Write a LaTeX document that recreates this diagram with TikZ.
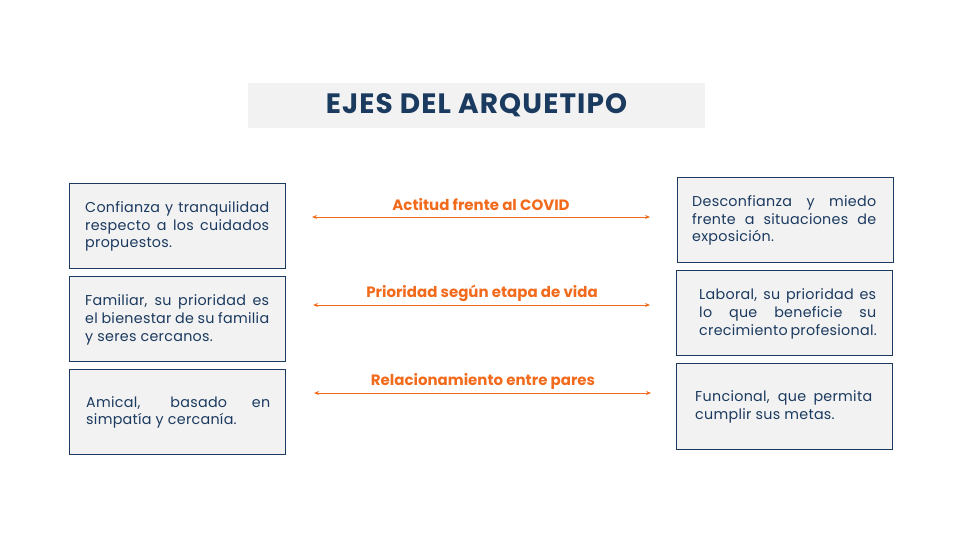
\documentclass[tikz,border=0pt]{standalone}
\usepackage{fontspec}
\setmainfont{Poppins}
\newfontfamily\titlefont[LetterSpace=4]{Poppins}
\newfontfamily\bodyfont[LetterSpace=2]{Poppins}
\usetikzlibrary{arrows.meta}
\definecolor{navy}{HTML}{1B3A5F}
\definecolor{boxfill}{HTML}{F2F2F2}
\definecolor{orng}{HTML}{F26B1D}
\tikzset{
  axisbox/.style={draw=navy, line width=1.2pt, fill=boxfill, minimum width=216pt, minimum height=85pt, anchor=north west, inner sep=0pt},
  boxtext/.style={text=navy, text width=184pt, align=justify, font=\fontsize{14.3pt}{17.8pt}\bodyfont, inner sep=0pt},
  axislabel/.style={text=orng, font=\fontsize{15pt}{17pt}\selectfont\bfseries, inner sep=0pt},
  axisarrow/.style={draw=orng, line width=0.9pt, {Stealth[length=5pt,width=4pt]}-{Stealth[length=5pt,width=4pt]}},
  titlebox/.style={fill=boxfill, minimum width=457pt, minimum height=45pt, inner sep=0pt, text=navy, font=\fontsize{28pt}{32pt}\titlefont\bfseries}
}
\begin{document}
\hyphenpenalty=10000
\exhyphenpenalty=10000
\begin{tikzpicture}[x=1pt,y=-1pt]
\useasboundingbox (0,0) rectangle (960,540);
\node[titlebox] (title) at (476.5,105.5) {EJES DEL ARQUETIPO};

\node[axisbox] (l1) at (69,183) {};
\node[axisbox] (l2) at (69,276) {};
\node[axisbox] (l3) at (69,369) {};
\node[axisbox] (r1) at (677,177) {};
\node[axisbox] (r2) at (676,270) {};
\node[axisbox, minimum height=86pt] (r3) at (676,363) {};

\node[boxtext, anchor=west] (tl1) at (85,226.5) {Confianza y tranquilidad\linebreak respecto a los cuidados\linebreak propuestos.};
\node[boxtext, anchor=west] (tl2) at (85,320) {Familiar, su prioridad es\linebreak el bienestar de su familia\linebreak y seres cercanos.};
\node[boxtext, anchor=west] (tl3) at (86,412.5) {Amical, basado en\linebreak simpatía y cercanía.};
\node[boxtext, anchor=west] (tr1) at (692,220.5) {Desconfianza y miedo\linebreak frente a situaciones de\linebreak exposición.};
\node[boxtext, anchor=west, text width=177pt] (tr2) at (699,314) {Laboral, su prioridad es\linebreak lo que beneficie su\linebreak crecimiento profesional.};
\node[boxtext, anchor=west, text width=177pt] (tr3) at (695,407) {Funcional, que permita\linebreak cumplir sus metas.};

\coordinate (a1l) at (312,217);
\coordinate (a1r) at (650,217);
\coordinate (a2l) at (313,305);
\coordinate (a2r) at (650,305);
\coordinate (a3l) at (314,393);
\coordinate (a3r) at (651,393);
\draw[axisarrow] (a1l) -- (a1r);
\draw[axisarrow] (a2l) -- (a2r);
\draw[axisarrow] (a3l) -- (a3r);

\node[axislabel] (lab1) at (481,205) {Actitud frente al COVID};
\node[axislabel] (lab2) at (482,293) {Prioridad según etapa de vida};
\node[axislabel] (lab3) at (483,381) {Relacionamiento entre pares};
\end{tikzpicture}
\end{document}
